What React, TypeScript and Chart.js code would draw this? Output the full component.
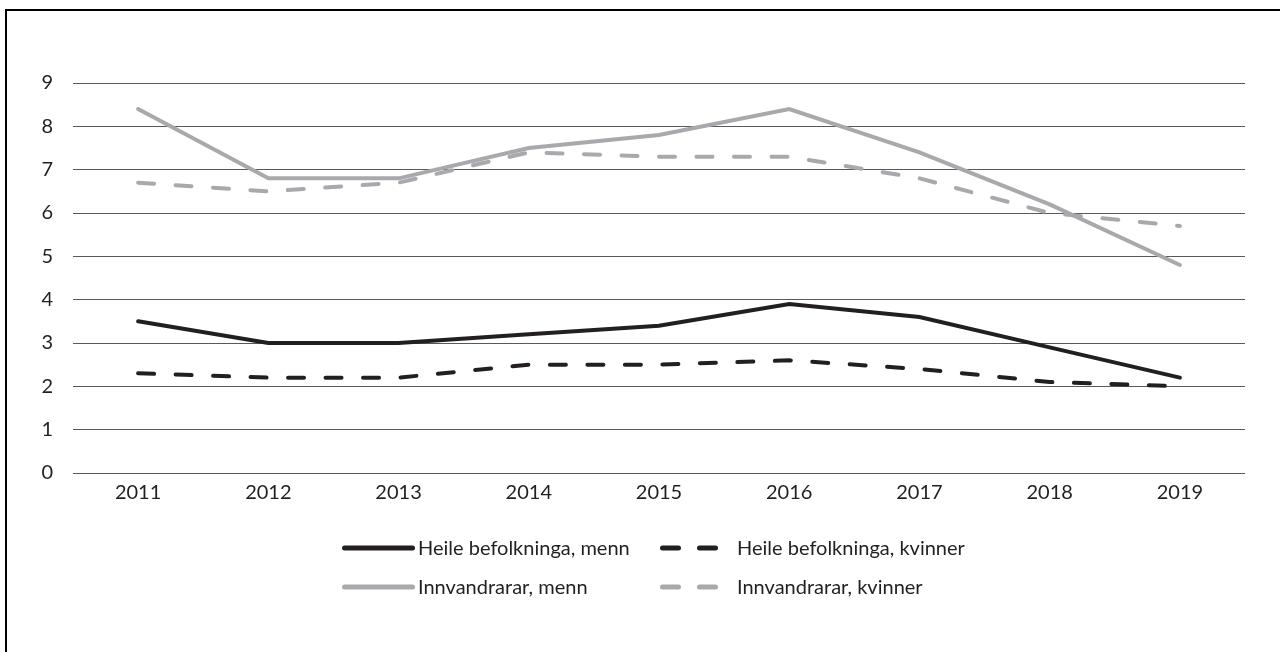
import React, { useEffect, useRef } from "react";
import { Chart, registerables } from "chart.js";

Chart.register(...registerables);

const years = ["2011", "2012", "2013", "2014", "2015", "2016", "2017", "2018", "2019"];
const heileMenn = [3.5, 3.0, 3.0, 3.2, 3.4, 3.9, 3.6, 2.9, 2.2];
const heileKvinner = [2.3, 2.2, 2.2, 2.5, 2.5, 2.6, 2.4, 2.1, 2.0];
const innvMenn = [8.4, 6.8, 6.8, 7.5, 7.8, 8.4, 7.4, 6.2, 4.8];
const innvKvinner = [6.7, 6.5, 6.7, 7.4, 7.3, 7.3, 6.8, 6.0, 5.7];
const seriesNames = [
  "Heile befolkninga, menn",
  "Heile befolkninga, kvinner",
  "Innvandrarar, menn",
  "Innvandrarar, kvinner",
];

const DARK = "#231f20";
const GREY = "#a7a9ac";
const FONT = "Lato";
const FSIZE = 20;

const legendPlugin = {
  id: "customLegend",
  afterDraw(chart: any) {
    const ctx = chart.ctx;
    const ds = chart.data.datasets;
    const rows = [537, 576];
    const cols = [
      { x0: 335, x1: 408, tx: 411 },
      { x0: 653, x1: 711, tx: 730 },
    ];
    ctx.save();
    ctx.font = `${FSIZE}px ${FONT}`;
    ctx.textBaseline = "middle";
    ctx.textAlign = "left";
    ds.forEach((d: any, i: number) => {
      const r = rows[Math.floor(i / 2)];
      const c = cols[i % 2];
      ctx.strokeStyle = d.borderColor;
      ctx.lineWidth = 5;
      ctx.lineCap = "round";
      ctx.setLineDash(d.borderDash && d.borderDash.length ? [16, 21] : []);
      ctx.beginPath();
      ctx.moveTo(c.x0 + 2.5, r);
      ctx.lineTo(c.x1 - 2.5, r);
      ctx.stroke();
      ctx.setLineDash([]);
      ctx.fillStyle = DARK;
      ctx.fillText(d.label, c.tx, r + 1);
    });
    ctx.restore();
  },
};

export default function App() {
  const ref = useRef<HTMLCanvasElement>(null);
  useEffect(() => {
    if (!ref.current) return;
    const mk = (label: string, data: number[], color: string, dashed: boolean) => ({
      label,
      data,
      borderColor: color,
      backgroundColor: color,
      borderWidth: 4,
      borderDash: dashed ? [16, 21.5] : [],
      borderCapStyle: "round" as const,
      borderJoinStyle: "miter" as const,
      pointRadius: 0,
      tension: 0,
      fill: false,
    });
    const chart = new Chart(ref.current, {
      type: "line",
      data: {
        labels: years,
        datasets: [
          mk(seriesNames[0], heileMenn, DARK, false),
          mk(seriesNames[1], heileKvinner, DARK, true),
          mk(seriesNames[2], innvMenn, GREY, false),
          mk(seriesNames[3], innvKvinner, GREY, true),
        ],
      },
      options: {
        animation: false,
        responsive: false,
        maintainAspectRatio: false,
        layout: { padding: { left: 0, right: 35, top: 72, bottom: 139 } },
        plugins: { legend: { display: false }, tooltip: { enabled: false } },
        scales: {
          x: {
            type: "category",
            offset: true,
            grid: { display: false, drawTicks: false },
            border: { display: false },
            ticks: { color: DARK, font: { family: FONT, size: FSIZE }, padding: 8, maxRotation: 0 },
            afterFit: (s: any) => { s.height = 40; },
          },
          y: {
            min: 0,
            max: 9,
            grid: { color: "#58595b", lineWidth: 1, drawTicks: false },
            border: { display: false },
            ticks: { stepSize: 1, color: DARK, font: { family: FONT, size: FSIZE }, padding: 20 },
            afterFit: (s: any) => { s.width = 66; },
          },
        },
      },
      plugins: [legendPlugin],
    });
    return () => chart.destroy();
  }, []);
  return (
    <div
      style={{
        position: "absolute",
        left: 5,
        top: 9,
        width: 1290,
        height: 660,
        borderLeft: "2px solid #000",
        borderTop: "2px solid #000",
        background: "#fff",
      }}
    >
      <canvas ref={ref} width={1273} height={641} style={{ display: "block" }} />
    </div>
  );
}
